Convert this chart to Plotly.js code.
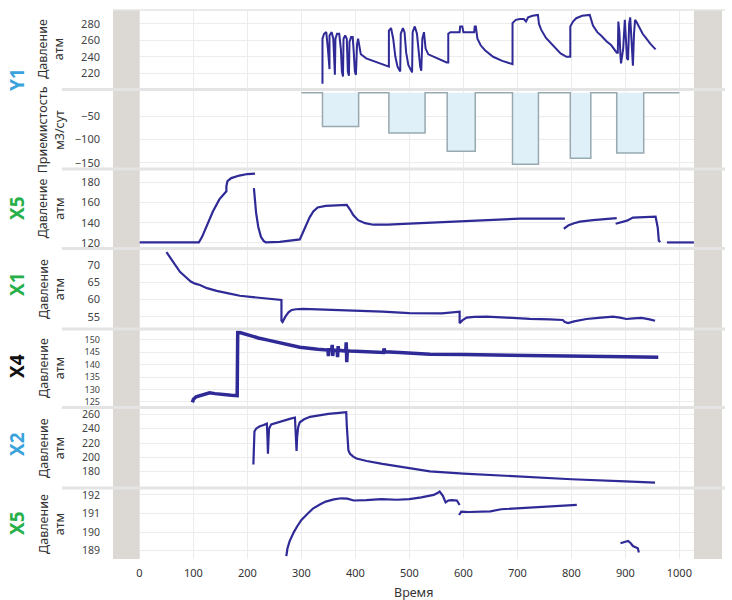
<!DOCTYPE html>
<html>
<head>
<meta charset="utf-8">
<script src="https://cdn.plot.ly/plotly-3.0.1.min.js"></script>
<style>html,body{margin:0;padding:0;background:#fff;}#chart{width:732px;height:600px;}</style>
</head>
<body>
<div id="chart"></div>
<script>
// ---- Data ----
// Y1 pressure (atm)
const y1PressX = [339,339,342,346,349,351,352,352,356,359,361,362,363,366,370,373,375,377,378,381,384,386,388,389,392,395,397,399,401,403,405,407,410,420,440,458,
  462,462,466,470,474,478,481,483,484,488,491,494,498,502,505,506,510,514,517,520,522,524,527,530,535,545,555,569,
  572,572,576,590,593,594,598,600,618,620,621,623,626,632,640,655,672,690,
  691,691,697,705,712,716,720,728,738,740,744,753,765,780,791,
  798,798,803,809,820,834,837,840,848,855,865,874,884,
  886,887,889,891,892,896,899,901,903,905,907,909,911,913,914,916,918,921,926,932,938,946,956];
const y1PressY = [207,262,268,270,250,225,225,266,270,262,225,218,262,268,268,250,222,216,262,266,262,222,217,258,264,264,245,222,218,255,262,255,243,238,233,229,
  228,272,275,262,240,228,224,222,268,275,270,245,230,224,221,270,277,268,245,228,223,262,270,250,243,240,237,233,
  233,268,270,270,270,277,277,270,270,270,277,277,262,254,248,240,235,231,
  231,281,285,286,286,283,288,290,291,280,273,263,254,244,240,
  240,277,283,287,290,291,283,278,270,266,259,254,245,
  245,283,270,240,232,250,285,262,238,236,280,288,260,235,229,268,285,282,276,268,263,256,249];
// Y1 injectivity (m3/day), step series
const injX = [300,339,406,462,529,570,622,691,739,798,836,884,934,1000];
const injY = [0,-72,0,-86,0,-125,0,-153,0,-140,0,-129,0,0];
// X5 pressure (upper)
const x5aX = [0,50,110,116,125,136,148,156,161,161,163,170,185,200,214,null,
  212,213,216,220,225,230,234,260,280,297,305,315,322,330,345,384,390,396,405,418,433,460,500,520,600,650,705,788,null,
  786,795,805,816,840,860,884,null,
  882,895,903,914,935,956,960,962,965,null,
  977,1000,1027];
const x5aY = [120.5,120.5,120.5,126,137,151,163,168.5,171,176,181,184,186.5,188,188.5,null,
  174,165,150,136,126,122,120.5,121,122,123.5,133,145,151,155,156.5,157.5,153,147.5,142.5,139.5,138,138,139,139.5,141.5,142.5,144,144,null,
  134,137.5,139.5,141,142.5,143.5,144.5,null,
  139,140.5,142,145,145.5,146,135,122,121,null,
  120.5,120.5,120.5];
// X1 pressure
const x1X = [50,55,62,68,75,80,87,95,103,112,125,143,165,186,210,235,263,263,265,270,276,282,290,303,350,400,450,500,538,560,593,593,598,606,620,643,680,723,760,784,788,794,805,828,850,877,890,902,915,930,945,955];
const x1Y = [73.7,72.6,71,69.5,68,67.3,66.2,65.2,64.6,64.2,63.3,62.5,61.8,61.1,60.7,60.3,59.9,53.9,53.5,55,56.3,57,57.2,57.3,57.1,56.8,56.5,56.1,55.9,56,56.5,53.2,54,54.8,55,55.1,54.8,54.4,54.3,54.1,53.5,53.2,53.7,54.4,54.7,55.1,54.8,54.4,54.6,54.7,54.3,53.9];
// X4 pressure
const x4X = [98,100,105,112,120,130,140,149,160,170,181,182,186,200,220,236,260,297,330,349,350,351,356,357,358,359,366,367,368,369,382,383,384,385,390,420,452,453,455,482,538,600,700,740,800,900,961];
const x4Y = [124.8,126,127,127.5,128.2,128.6,128.3,128,127.8,127.6,127.5,153,153,152,150.8,150,148.8,147,146.2,145.9,143.5,146,146,148,143.5,145.8,145.8,143,147.5,145.8,145.5,149,141,145.6,145.5,145.2,144.9,146.5,145.2,144.9,144.2,144.1,143.9,143.7,143.4,143.2,143];
// X2 pressure
const x2X = [211,212,213,216,222,230,236,237,238,239,240,244,252,262,270,280,288,289,290,291,292,294,297,305,316,330,350,370,383,384,385,387,390,396,402,421,450,482,538,600,700,800,900,955];
const x2Y = [190,222,236,240,243,245,247,230,205,225,240,246,248,250,252,254,255.5,240,215,209,228,242,249,253,256.5,258.5,260.5,262,263,245,226,210,205,201,198.5,195,191,187,180.5,177.5,173,169.5,166.5,164.7];
// X5 pressure (lower)
const x5bX = [272,274,278,282,286,292,300,310,322,335,345,360,374,385,397,420,448,477,500,522,535,545,552,556,562,567,572,578,588,593,null,
  592,596,610,633,650,670,700,743,780,810,null,
  891,895,900,905,910,914,918,923,925];
const x5bY = [188.7,189.1,189.5,189.8,190.0,190.3,190.65,190.95,191.28,191.5,191.64,191.76,191.82,191.8,191.7,191.72,191.77,191.74,191.78,191.87,191.95,192.0,192.1,192.18,191.95,191.6,191.7,191.72,191.7,191.46,null,
  190.92,191.1,191.08,191.1,191.12,191.23,191.28,191.37,191.42,191.46,null,
  189.4,189.45,189.48,189.52,189.4,189.25,189.2,189.13,188.9];

// Tick values per panel
const ticks1 = [220,240,260,280];
const ticks2 = [-150,-100,-50];
const ticks3 = [120,140,160,180];
const ticks4 = [55,60,65,70];
const ticks5 = [125,130,135,140,145,150];
const ticks6 = [180,200,220,240,260];
const ticks7 = [189,190,191,192];
const xTicks = [0,100,200,300,400,500,600,700,800,900,1000];

// Labels
const wellLabels = ["Y1","X5","X1","X4","X2","X5"];
const wellColors = ["#3aa3dc","#27b04a","#27b04a","#111111","#3aa3dc","#27b04a"];
const pressTitle = "Давление<br>атм";
const injTitle = "Приемистость<br>м3/сут";
const xTitle = "Время";

// ---- Layout helpers ----
const LINE = "#2f2a96";
const domains = [[0.858,1.0],[0.7122,0.8525],[0.5683,0.7086],[0.4208,0.5628],[0.2787,0.4171],[0.1311,0.2732],[0,0.1275]];
const ranges = [[202,297],[-161,4],[116,192],[51.8,74.3],[123.3,154],[158.7,267.4],[188.55,192.32]];
const tickSets = [ticks1,ticks2,ticks3,ticks4,ticks5,ticks6,ticks7];
const tickSizes = [11,11,11,11,9,10.5,10.5];
const FONT = "Noto Sans, Open Sans, sans-serif";

const traces = [
  {x:y1PressX,y:y1PressY,yaxis:'y',mode:'lines',line:{color:LINE,width:2},connectgaps:false},
  {x:injX,y:injY,yaxis:'y2',mode:'lines',line:{color:'#98a9b0',width:1.5,shape:'hv'},fill:'tozeroy',fillcolor:'#dff0f8'},
  {x:x5aX,y:x5aY,yaxis:'y3',mode:'lines',line:{color:LINE,width:2.2},connectgaps:false},
  {x:x1X,y:x1Y,yaxis:'y4',mode:'lines',line:{color:LINE,width:2.2}},
  {x:x4X,y:x4Y,yaxis:'y5',mode:'lines',line:{color:LINE,width:3.5}},
  {x:x2X,y:x2Y,yaxis:'y6',mode:'lines',line:{color:LINE,width:2.2}},
  {x:x5bX,y:x5bY,yaxis:'y7',mode:'lines',line:{color:LINE,width:2.2},connectgaps:false}
];

const layout = {
  width:732,height:600,
  margin:{l:113,r:10,t:10,b:41},
  paper_bgcolor:'#ffffff',plot_bgcolor:'#ffffff',
  showlegend:false,
  font:{family:FONT,color:'#444',size:11},
  xaxis:{range:[-49,1079],anchor:'y7',tickvals:xTicks,showgrid:true,gridcolor:'#ececec',zeroline:false,
         showline:false,ticks:'',ticklabelstandoff:6,tickfont:{size:11,color:'#333',family:FONT}},
  shapes:[],annotations:[]
};

for (let i=0;i<7;i++){
  const key = i===0 ? 'yaxis' : 'yaxis'+(i+1);
  layout[key] = {domain:domains[i],range:ranges[i],tickvals:tickSets[i],showgrid:true,gridcolor:'#ececec',
    zeroline:false,showline:false,ticks:'',ticklabelstandoff:12,anchor:'x',
    tickfont:{size:tickSizes[i],color:'#444',family:FONT}};
  // grey bands at both ends of each panel
  layout.shapes.push({type:'rect',xref:'x',yref:'paper',x0:-49,x1:0,y0:domains[i][0],y1:domains[i][1],fillcolor:'#dcd9d5',line:{width:0},layer:'above'});
  layout.shapes.push({type:'rect',xref:'x',yref:'paper',x0:1027,x1:1079,y0:domains[i][0],y1:domains[i][1],fillcolor:'#dcd9d5',line:{width:0},layer:'above'});
  // axis title annotation
  const yc = (domains[i][0]+domains[i][1])/2;
  layout.annotations.push({xref:'paper',yref:'paper',x:-0.102,y:yc,text:(i===1?injTitle:pressTitle),textangle:-90,
    showarrow:false,xanchor:'center',yanchor:'middle',font:{size:12.5,color:'#333',family:FONT}});
}

// separators between panels
const sepY = [1.0,0.8552,0.7104,0.5656,0.4189,0.2760,0.1293];
sepY.forEach((y,k)=>{
  layout.shapes.push({type:'line',xref:'paper',yref:'paper',x0:(k===0?0:-0.084),x1:1.005,y0:y,y1:y,line:{color:'#e4e4e4',width:(k===0?1.5:3)},layer:'above'});
});

// well labels (pixel centers converted to paper)
const labelPy = [80,208,284,366,444,523];
labelPy.forEach((py,k)=>{
  layout.annotations.push({xref:'paper',yref:'paper',x:(17-113)/609,y:(559-py)/549,text:'<b>'+wellLabels[k]+'</b>',textangle:-90,
    showarrow:false,xanchor:'center',yanchor:'middle',font:{size:19,color:wellColors[k],family:FONT}});
});

// x-axis title
layout.annotations.push({xref:'paper',yref:'paper',x:(413-113)/609,y:(559-592)/549,text:xTitle,showarrow:false,
  xanchor:'center',yanchor:'middle',font:{size:12.5,color:'#333',family:FONT}});

Plotly.newPlot('chart',traces,layout,{displayModeBar:false,staticPlot:true});
</script>
</body>
</html>
